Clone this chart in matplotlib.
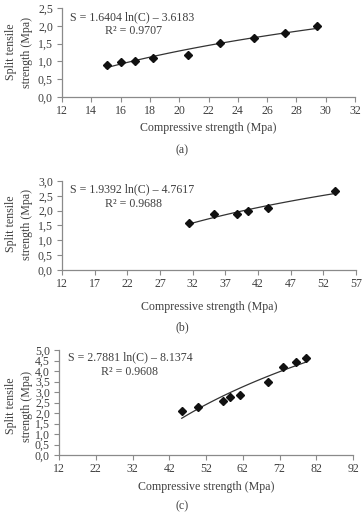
import numpy as np
import matplotlib
matplotlib.use("Agg")
import matplotlib.pyplot as plt
from matplotlib.ticker import FuncFormatter

plt.rcParams['font.family'] = ['Liberation Serif', 'DejaVu Serif']

# Panel (a)
a_x = [15.1, 16.0, 17.0, 18.2, 20.6, 22.8, 25.1, 27.2, 29.4]
a_y = [0.90, 0.98, 1.01, 1.10, 1.18, 1.52, 1.67, 1.80, 2.00]
a_eq = ["S = 1.6404 ln(C) \u2013 3.6183", "R\u00b2 = 0.9707"]
a_xticks = [12, 14, 16, 18, 20, 22, 24, 26, 28, 30, 32]
a_yticks = [0.0, 0.5, 1.0, 1.5, 2.0, 2.5]

# Panel (b)
b_x = [31.5, 35.3, 38.8, 40.5, 43.6, 53.8]
b_y = [1.58, 1.88, 1.88, 1.98, 2.08, 2.67]
b_eq = ["S = 1.9392 ln(C) \u2013 4.7617", "R\u00b2 = 0.9688"]
b_xticks = [12, 17, 22, 27, 32, 37, 42, 47, 52, 57]
b_yticks = [0.0, 0.5, 1.0, 1.5, 2.0, 2.5, 3.0]

# Panel (c)
c_x = [45.5, 49.9, 56.7, 58.5, 61.3, 69.0, 73.0, 76.5, 79.2]
c_y = [2.10, 2.30, 2.58, 2.78, 2.88, 3.48, 4.21, 4.45, 4.63]
c_eq = ["S = 2.7881 ln(C) \u2013 8.1374", "R\u00b2 = 0.9608"]
c_xticks = [12, 22, 32, 42, 52, 62, 72, 82, 92]
c_yticks = [0.0, 0.5, 1.0, 1.5, 2.0, 2.5, 3.0, 3.5, 4.0, 4.5, 5.0]

xlabel = "Compressive strength (Mpa)"
ylabel = "Split tensile\nstrength (Mpa)"

W, H = 364, 515
fig = plt.figure(figsize=(W / 100, H / 100), dpi=100)

TXT = '#404040'
SPN = '#8a8a8a'
FS = 8.6

def comma(v, pos):
    return ("%.1f" % v).replace('.', ',')

def panel(rect, xs, ys, eq, xticks, yticks, letter, eqpos, r2pos, ylab_y, xlab_y, let_y, ylpos):
    l, r, t, b = rect
    ax = fig.add_axes([l / W, 1 - b / H, (r - l) / W, (b - t) / H])
    ax.set_xlim(xticks[0], xticks[-1])
    ax.set_ylim(yticks[0], yticks[-1])
    ax.set_xticks(xticks)
    ax.set_yticks(yticks)
    ax.yaxis.set_major_formatter(FuncFormatter(comma))
    for s in ['top', 'right']:
        ax.spines[s].set_visible(False)
    for s in ['left', 'bottom']:
        ax.spines[s].set_color(SPN)
        ax.spines[s].set_linewidth(0.9)
    ax.tick_params(axis='both', colors=SPN, labelcolor=TXT, labelsize=FS,
                   length=3.5, width=0.8, direction='out', pad=2)
    ax.tick_params(axis='y', pad=3)
    ax.patch.set_alpha(0)
    # trend line (log fit of the data)
    k, c0 = np.polyfit(np.log(xs), ys, 1)
    xx = np.linspace(min(xs) - 0.1, max(xs), 100)
    ax.plot(xx, k * np.log(xx) + c0, color='#333333', lw=0.9, zorder=2)
    ax.plot(xs, ys, 'D', color='#111111', ms=4.0, zorder=3, clip_on=False)
    fig.text(eqpos[0] / W, 1 - eqpos[1] / H, eq[0], fontsize=FS, color=TXT,
             ha='left', va='center')
    fig.text(r2pos[0] / W, 1 - r2pos[1] / H, eq[1], fontsize=FS, color=TXT,
             ha='left', va='center')
    fig.text((l + r) / 2 / W, 1 - xlab_y / H, xlabel, fontsize=FS, color=TXT,
             ha='center', va='center')
    fig.text(ylpos / W, 1 - ylab_y / H, ylabel, fontsize=FS, color=TXT,
             ha='center', va='center', rotation=90, linespacing=1.45)
    fig.text(182 / W, 1 - let_y / H, letter, fontsize=FS, color=TXT,
             ha='center', va='center')
    return ax

panel((62, 355, 8, 97), a_x, a_y, a_eq, a_xticks, a_yticks, "(a)",
      (70, 17), (105, 31), 52, 128, 150, 19)
panel((62, 356, 181, 270), b_x, b_y, b_eq, b_xticks, b_yticks, "(b)",
      (70, 189), (105, 204), 224, 307, 327, 19)
panel((59, 353, 350, 455), c_x, c_y, c_eq, c_xticks, c_yticks, "(c)",
      (68, 357), (101, 372), 406, 487, 506, 19)

fig.savefig("out.png", dpi=100, facecolor='white')
